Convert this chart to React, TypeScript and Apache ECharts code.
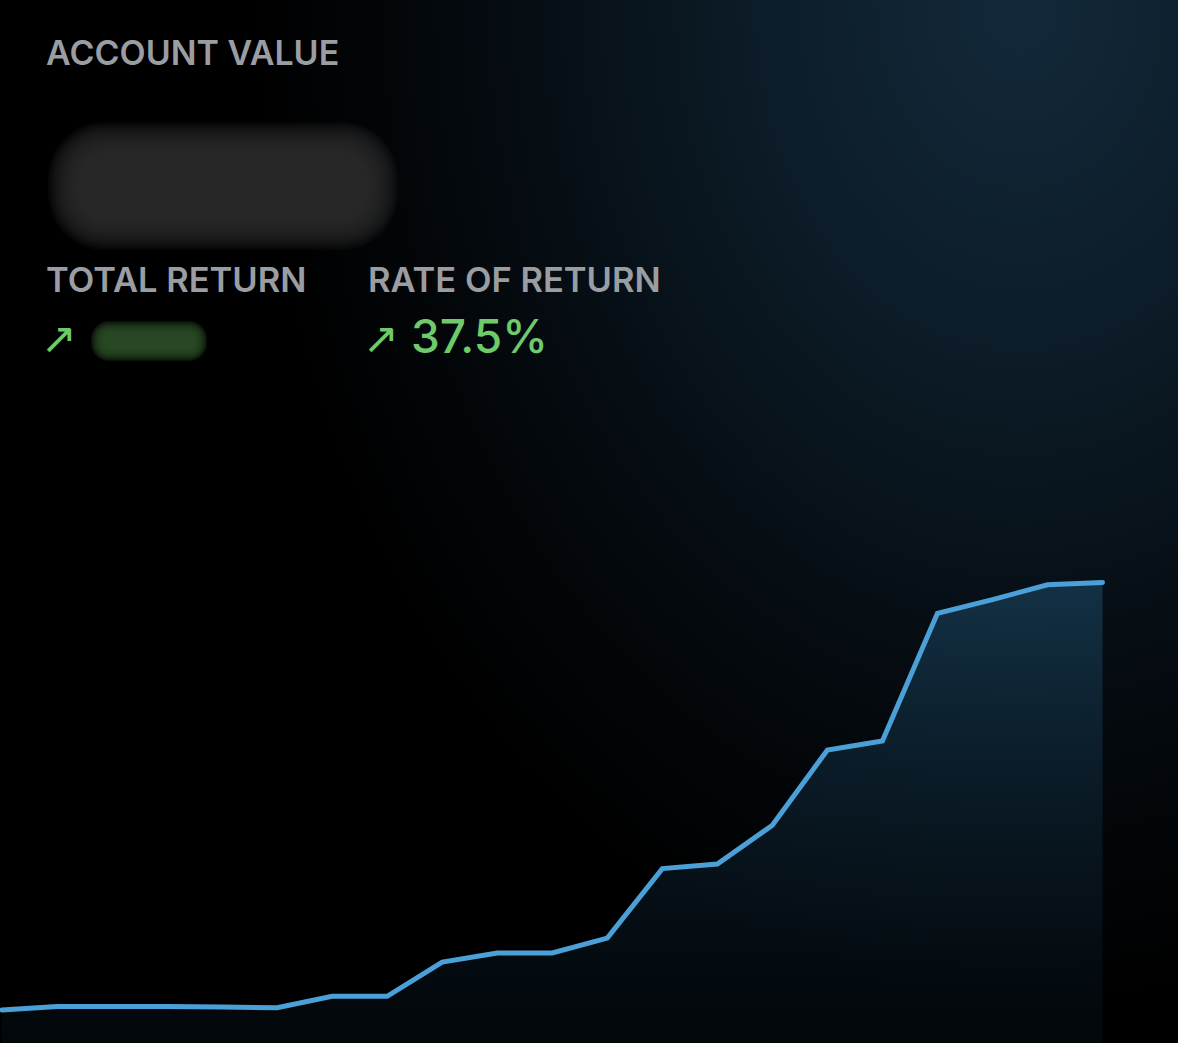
import React, { useEffect, useRef } from "react";
import * as echarts from "echarts";

// Account value index (start = 100)
const periods = ["P1","P2","P3","P4","P5","P6","P7","P8","P9","P10","P11","P12","P13","P14","P15","P16","P17","P18","P19","P20","P21"];
const accountValue = [100.0, 100.3, 100.3, 100.3, 100.26, 100.2, 101.2, 101.2, 104.2, 105.0, 105.0, 106.3, 112.4, 112.8, 116.2, 122.8, 123.6, 134.8, 136.0, 137.3, 137.5];
const rateOfReturn = "37.5%";
const labels = { account: "ACCOUNT VALUE", total: "TOTAL RETURN", rate: "RATE OF RETURN" };

function blurBox(x0: number, y0: number, x1: number, y1: number, step: number, n: number, color: string, alpha: number, r: number) {
  const out: any[] = [];
  for (let i = n - 1; i >= 0; i--) {
    const g = i * step;
    out.push({
      type: "rect",
      silent: true,
      shape: { x: x0 - g, y: y0 - g, width: x1 - x0 + 2 * g, height: y1 - y0 + 2 * g, r: r + g },
      style: { fill: color, opacity: alpha },
    });
  }
  return out;
}

export default function App() {
  const ref = useRef<HTMLDivElement>(null);
  useEffect(() => {
    document.body.style.margin = "0";
    const chart = echarts.init(ref.current!, null, { renderer: "svg" });
    const labelFont = "Inter, Roboto, sans-serif";
    chart.setOption({
      animation: false,
      backgroundColor: "transparent",
      grid: { left: 2, right: 75.5, top: 554, bottom: 0, containLabel: false },
      xAxis: {
        type: "category",
        data: periods,
        boundaryGap: false,
        show: false,
      },
      yAxis: {
        type: "value",
        min: 97.1,
        max: 140,
        show: false,
        splitLine: { show: false },
      },
      series: [
        {
          type: "line",
          data: accountValue,
          symbol: "none",
          lineStyle: { color: "#4ca0d8", width: 5, cap: "round", join: "miter" },
          areaStyle: {
            color: {
              type: "linear",
              x: 0, y: 0, x2: 0, y2: 1,
              colorStops: [
                { offset: 0, color: "rgba(30,78,110,0.75)" },
                { offset: 0.45, color: "rgba(20,55,80,0.55)" },
                { offset: 1, color: "rgba(8,22,32,0.45)" },
              ],
            },
          },
        },
      ],
      graphic: [
        {
          type: "text",
          left: 46,
          top: 35,
          style: { text: labels.account, fill: "#9a9da1", font: `600 34px ${labelFont}` },
        },
        ...blurBox(86, 160, 360, 212, 2, 20, "#2e2f30", 0.13, 18),
        {
          type: "text",
          left: 46,
          top: 262,
          style: { text: labels.total, fill: "#9a9da1", font: `600 34.5px ${labelFont}` },
        },
        {
          type: "text",
          left: 368,
          top: 262,
          style: { text: labels.rate, fill: "#9a9da1", font: `600 34.5px ${labelFont}` },
        },
        {
          type: "text",
          left: 41,
          top: 316,
          style: { text: "↗", fill: "#6fca6a", font: `400 43px "DejaVu Sans", sans-serif` },
        },
        ...blurBox(104, 334, 194, 348, 1.2, 12, "#2c4e27", 0.2, 5),
        {
          type: "text",
          left: 363,
          top: 316,
          style: { text: "↗", fill: "#6fca6a", font: `400 43px "DejaVu Sans", sans-serif` },
        },
        {
          type: "text",
          left: 411,
          top: 313,
          style: { text: rateOfReturn, fill: "#6fca6a", font: `500 46px ${labelFont}` },
        },
      ],
    });
    return () => chart.dispose();
  }, []);
  return (
    <div
      ref={ref}
      style={{
        position: "fixed",
        left: 0,
        top: 0,
        width: 1178,
        height: 1043,
        background:
          "radial-gradient(ellipse 760px 1000px at 1020px 0px, #13293a 0%, #0c1c28 35%, #050b10 70%, #000000 100%), #000",
      }}
    />
  );
}
